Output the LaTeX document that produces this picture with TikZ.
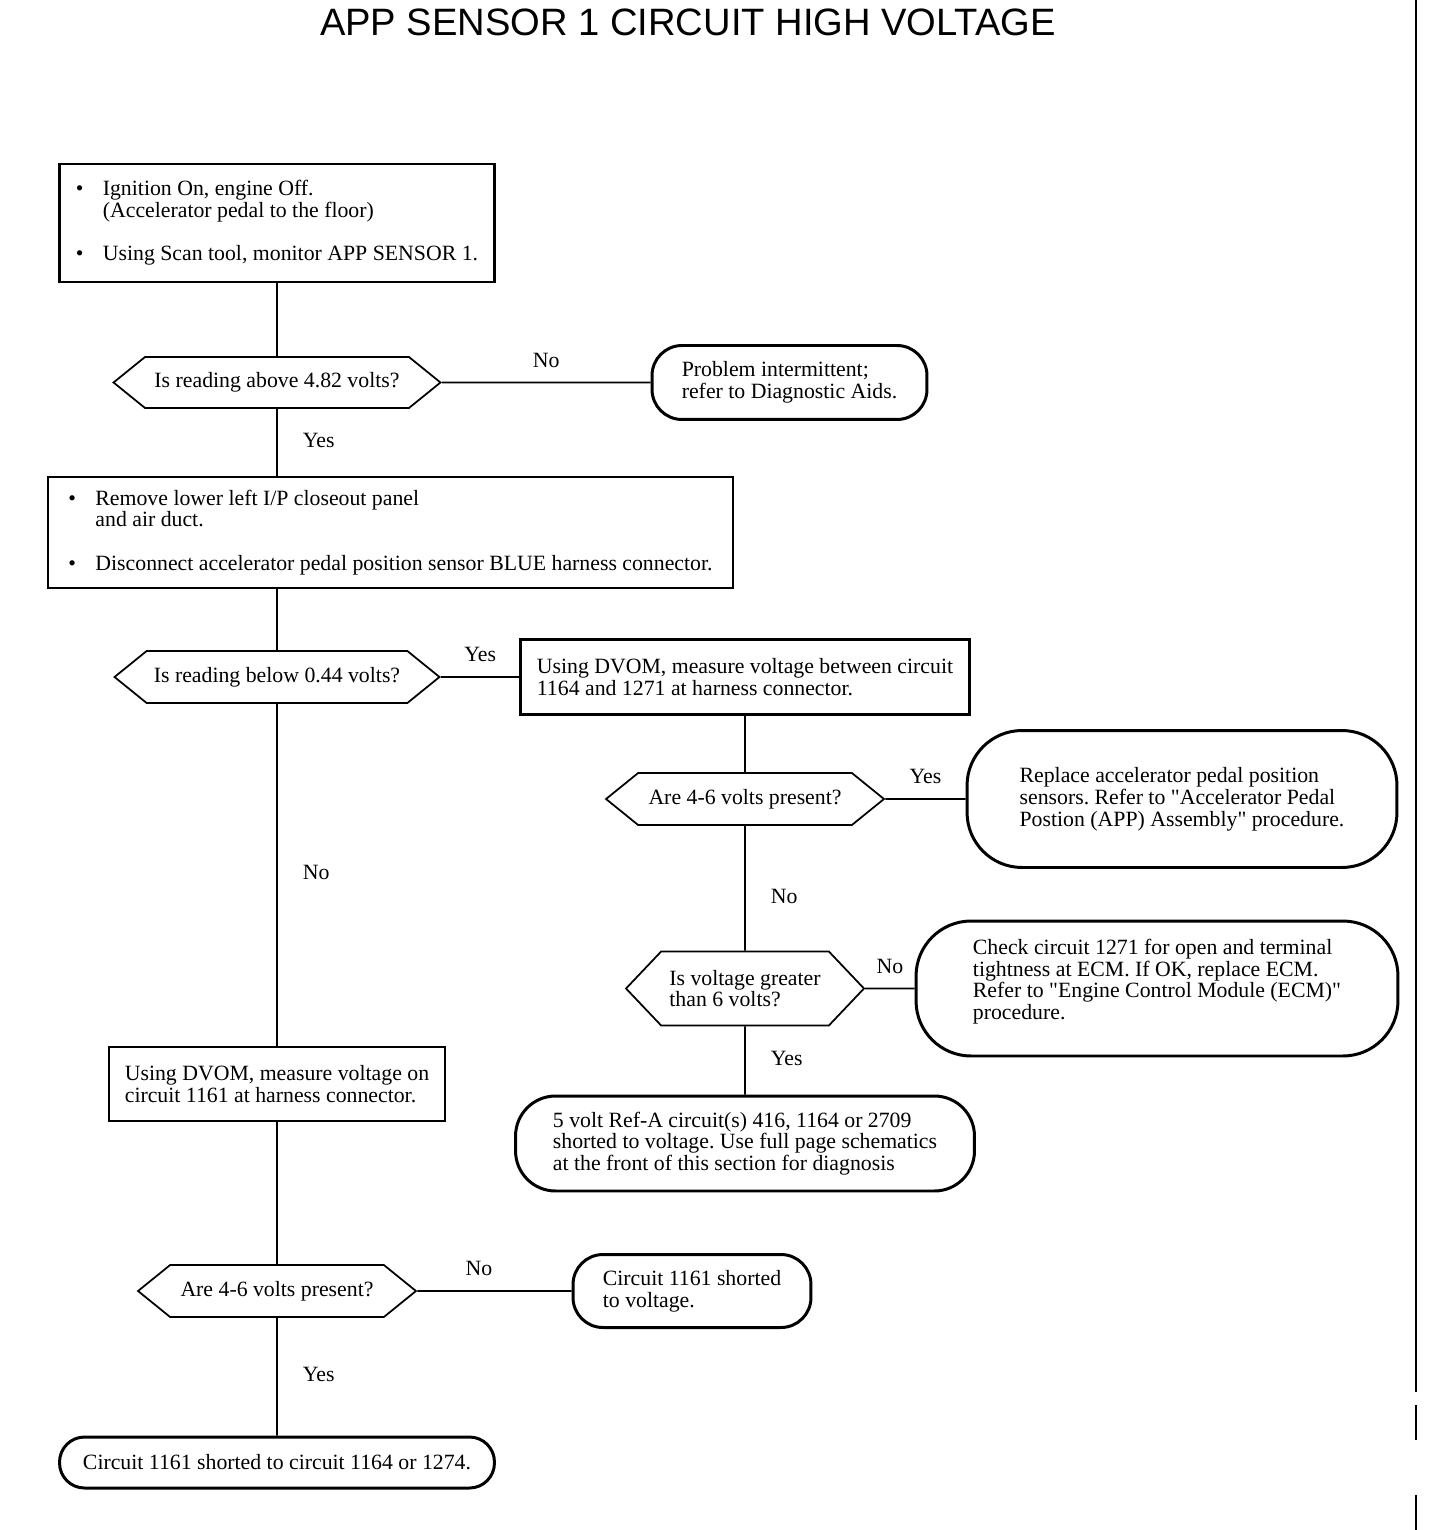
\documentclass[tikz,border=0pt]{standalone}
\usepackage{fontspec}
\setmainfont{Liberation Serif}
\newfontfamily\titlefont{Liberation Sans}
\usetikzlibrary{positioning, shapes.symbols}
\newcommand{\bul}{\makebox[0.54cm][l]{\textbullet}}
\newcommand{\ind}{\hspace*{0.54cm}}
\newcommand{\qq}{\textquotedbl}

\begin{document}
\frenchspacing
\begin{tikzpicture}[x=0.02cm, y=-0.02cm,
    font=\fontsize{12.4}{12.4}\selectfont,
    box/.style={draw, line width=1.3pt, align=left, inner sep=0pt},
    term/.style={draw, line width=1.7pt, rounded corners=#1, align=left, inner sep=0pt},
    term/.default=1.1cm,
    dec/.style={draw, line width=1pt, shape=signal, signal to=west and east,
                signal pointer angle=#1, align=left, inner sep=0pt},
    dec/.default=78,
    conn/.style={line width=1pt},
    lab/.style={inner sep=0pt, text height=8pt, text depth=2.5pt},
  ]
  \useasboundingbox (0,0) rectangle (1440,1530);

  \node[font=\titlefont\fontsize{21.7}{26}\selectfont, anchor=base] (title) at (688,36)
    {APP SENSOR 1 CIRCUIT HIGH VOLTAGE};

  % left column
  \node[box, minimum width=8.7cm, minimum height=2.36cm] (ign) at (277,223)
    {\bul Ignition On, engine Off.\\ \ind(Accelerator pedal to the floor)\\[12.4pt]
     \bul Using Scan tool, monitor APP SENSOR 1.};
  \node[dec, minimum width=6.54cm, minimum height=1.02cm] (q482) at (277,382.5)
    {Is reading above 4.82 volts?};
  \node[term=0.6cm, minimum width=5.5cm, minimum height=1.48cm] (intm) at (789.5,382.5)
    {Problem intermittent;\\refer to Diagnostic Aids.};
  \node[box, minimum width=13.7cm, minimum height=2.22cm] (rem) at (390.5,532.5)
    {\bul Remove lower left I/P closeout panel\\ \ind and air duct.\\[12.4pt]
     \bul Disconnect accelerator pedal position sensor BLUE harness connector.};
  \node[dec, minimum width=6.5cm, minimum height=1.04cm] (q044) at (277,677)
    {Is reading below 0.44 volts?};
  \node[box, minimum width=6.72cm, minimum height=1.48cm] (m1161) at (277,1084)
    {Using DVOM, measure voltage on\\circuit 1161 at harness connector.};
  \node[dec, minimum width=5.56cm, minimum height=1.04cm] (q46b) at (277,1291)
    {Are 4-6 volts present?};
  \node[term=0.6cm, minimum width=4.76cm, minimum height=1.46cm] (s1161) at (692,1291)
    {Circuit 1161 shorted\\to voltage.};
  \node[term=0.5cm, minimum width=8.7cm, minimum height=1.02cm] (s1164) at (277,1462.5)
    {Circuit 1161 shorted to circuit 1164 or 1274.};

  % middle and right
  \node[box, minimum width=8.98cm, minimum height=1.5cm] (meas) at (745,677)
    {Using DVOM, measure voltage between circuit\\1164 and 1271 at harness connector.};
  \node[dec, minimum width=5.56cm, minimum height=1.04cm] (q46a) at (745,799)
    {Are 4-6 volts present?};
  \node[term, minimum width=8.6cm, minimum height=2.74cm] (repl) at (1182,799)
    {Replace accelerator pedal position\\sensors. Refer to \qq Accelerator Pedal\\Postion (APP) Assembly\qq{} procedure.};
  \node[dec=93, minimum width=4.76cm, minimum height=1.48cm] (q6v) at (745,988.5)
    {Is voltage greater\\than 6 volts?};
  \node[term, minimum width=9.64cm, minimum height=2.7cm, text depth=10.5pt] (ecm) at (1157,988.5)
    {Check circuit 1271 for open and terminal\\tightness at ECM. If OK, replace ECM.\\Refer to \qq Engine Control Module (ECM)\qq\\procedure.};
  \node[term=0.8cm, minimum width=9.18cm, minimum height=1.9cm] (refa) at (745,1143.5)
    {5 volt Ref-A circuit(s) 416, 1164 or 2709\\shorted to voltage. Use full page schematics\\at the front of this section for diagnosis};

  \draw[conn] (ign) -- (q482);
  \draw[conn] (q482) -- node[lab, above=0.2cm] {No} (intm);
  \draw[conn] (q482) -- node[lab, right=0.5cm] {Yes} (q482 |- rem.north);
  \draw[conn] (rem.south -| q044) -- (q044);
  \draw[conn] (q044) -- node[lab, above=0.2cm] {Yes} (meas);
  \draw[conn] (meas) -- (q46a);
  \draw[conn] (q46a) -- node[lab, above=0.2cm] {Yes} (repl);
  \draw[conn] (q46a) -- node[lab, right=0.5cm, pos=0.58] {No} (q6v);
  \draw[conn] (q6v) -- node[lab, above=0.2cm] {No} (ecm);
  \draw[conn] (q6v) -- node[lab, right=0.5cm] {Yes} (refa);
  \draw[conn] (q044) -- node[lab, right=0.5cm] {No} (m1161);
  \draw[conn] (m1161) -- (q46b);
  \draw[conn] (q46b) -- node[lab, above=0.2cm, pos=0.4] {No} (s1161);
  \draw[conn] (q46b) -- node[lab, right=0.5cm] {Yes} (s1164);

  % page edge
  \draw[line width=1.2pt] (1416,0) -- (1416,1392) (1416,1405) -- (1416,1440)
    (1416,1495) -- (1416,1530);
\end{tikzpicture}
\end{document}
